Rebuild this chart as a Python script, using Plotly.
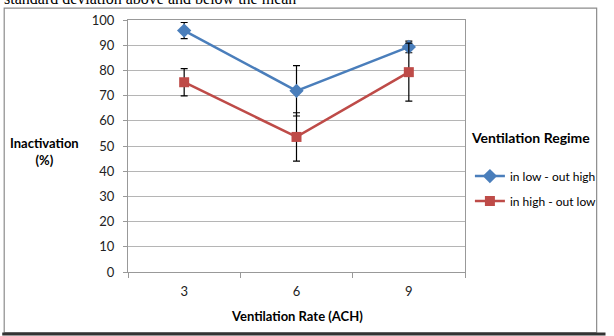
import plotly.graph_objects as go

categories = ["3", "6", "9"]
low_high = [95.8, 71.9, 89.3]
low_high_err = [3.2, 10.0, 2.3]
high_low = [75.3, 53.6, 79.3]
high_low_err = [5.4, 9.6, 11.5]
series_names = ["in low - out high", "in high - out low"]
y_ticks = list(range(0, 101, 10))

W, H = 614, 336
L, R, T, B = 128, 471, 18, 272

def px(x):
    return (x - L) / (R - L)

def py(y):
    return (B - y) / (B - T)

FONT = "Lato"

fig = go.Figure()
fig.add_trace(go.Scatter(
    x=categories, y=low_high, name=series_names[0], mode="lines+markers",
    line=dict(color="#4A7EBB", width=2.5),
    marker=dict(symbol="diamond", size=11, color="#4A7EBB"),
    error_y=dict(type="data", array=low_high_err, color="black", thickness=1.2, width=3.5),
    legendgroup="a",
))
fig.add_trace(go.Scatter(
    x=categories, y=high_low, name=series_names[1], mode="lines+markers",
    line=dict(color="#BE4B48", width=2.5),
    marker=dict(symbol="square", size=10, color="#BE4B48"),
    error_y=dict(type="data", array=high_low_err, color="black", thickness=1.2, width=3.5),
    legendgroup="b",
))

fig.update_layout(
    width=W, height=H,
    margin=dict(l=L, r=W - R, t=T, b=H - B),
    paper_bgcolor="white", plot_bgcolor="white",
    font=dict(family=FONT, size=12, color="#222"),
    showlegend=True,
    legend=dict(
        x=px(476), y=py(124), xanchor="left", yanchor="top",
        title=dict(text="<b>Ventilation Regime</b><br> ", font=dict(family=FONT, size=14, color="black")),
        font=dict(family=FONT, size=12, color="black"),
        tracegroupgap=6, itemwidth=30, bgcolor="rgba(0,0,0,0)",
    ),
    xaxis=dict(
        type="category", categoryorder="array", categoryarray=categories,
        range=[-0.5, 2.5], tickson="boundaries", ticks="outside", ticklen=5,
        tickcolor="#999", showline=True, linecolor="#999", linewidth=1, mirror=True,
        showgrid=False, ticklabelstandoff=7,
        tickfont=dict(family=FONT, size=13, color="#222"),
    ),
    yaxis=dict(
        range=[0, 100], tickvals=y_ticks, ticks="outside", ticklen=4, tickcolor="#999",
        showline=True, linecolor="#999", linewidth=1, mirror=True,
        showgrid=True, gridcolor="#b5b5b5", gridwidth=1, zeroline=False,
        ticklabelstandoff=6,
        tickfont=dict(family=FONT, size=13, color="#222"),
    ),
)

# outer chart border
fig.add_shape(type="rect", xref="paper", yref="paper",
              x0=px(2), x1=px(605), y0=py(333), y1=py(6),
              line=dict(color="#8c8c8c", width=1.2), fillcolor="rgba(0,0,0,0)", layer="below")
fig.add_shape(type="line", xref="paper", yref="paper",
              x0=px(0), x1=px(614), y0=py(334.5), y1=py(334.5),
              line=dict(color="#333", width=3))

# axis titles
fig.add_annotation(x=px(43), y=py(150.5), xref="paper", yref="paper",
                   xanchor="center", yanchor="middle",
                   text="<b>Inactivation</b><br><b>(%)</b>", showarrow=False,
                   font=dict(family=FONT, size=13, color="black"), align="center")
fig.add_annotation(x=px(299.5), y=py(316), xref="paper", yref="paper",
                   xanchor="center", yanchor="middle",
                   text="<b>Ventilation Rate (ACH)</b>", showarrow=False,
                   font=dict(family=FONT, size=13, color="black"))
# clipped caption from the page above
fig.add_annotation(x=px(0), y=py(-4), xref="paper", yref="paper", xanchor="left", yanchor="middle",
                   text="standard deviation above and below the mean", showarrow=False,
                   font=dict(family="Liberation Serif", size=16, color="black"))

fig.write_html("out.html")
